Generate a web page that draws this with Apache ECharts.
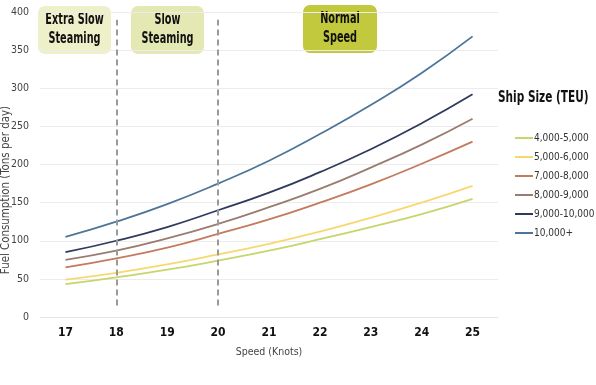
<!DOCTYPE html>
<html><head><meta charset="utf-8">
<script src="https://cdn.jsdelivr.net/npm/echarts@6/dist/echarts.min.js"></script>
<style>html,body{margin:0;padding:0;background:#fff}#c{width:596px;height:385px}</style>
</head><body><div id="c"></div>
<script>
const speeds = ['17','18','19','20','21','22','23','24','25'];
const seriesNames = ['4,000-5,000','5,000-6,000','7,000-8,000','8,000-9,000','9,000-10,000','10,000+'];
const s4000 = [43, 52, 62, 74, 87, 102, 118, 135, 155];
const s5000 = [49, 58, 69, 82, 96, 112, 130, 150, 172];
const s7000 = [65, 77, 91, 109, 128, 150, 174, 201, 230];
const s8000 = [75, 87, 103, 122, 144, 168, 196, 226, 260];
const s9000 = [85, 100, 118, 140, 163, 190, 220, 254, 292];
const s10000 = [105, 125, 148, 175, 205, 240, 278, 320, 368];
const yTicks = [0, 50, 100, 150, 200, 250, 300, 350, 400];
const phaseLines = ['18', '20'];
const colors = ['#c6d66c', '#f9d770', '#c47a5e', '#9a7b70', '#2f3a5c', '#4c7599'];
const allData = [s4000, s5000, s7000, s8000, s9000, s10000];
const font = '"DejaVu Sans Condensed", "DejaVu Sans", sans-serif';

const series = allData.map((d, i) => ({
  name: seriesNames[i], type: 'line', data: d, smooth: true, symbol: 'none',
  lineStyle: { width: 1.8, color: colors[i] }, itemStyle: { color: colors[i] }
}));
series[0].markLine = {
  silent: true, symbol: 'none', label: { show: false },
  lineStyle: { type: [6, 4], color: '#9a9a9a', width: 2 },
  data: phaseLines.map(p => [{ coord: [p, 15] }, { coord: [p, 390] }])
};

function box(x, y, w, h, fill, text) {
  return { type: 'group', left: x, top: y, children: [
    { type: 'rect', shape: { x: 0, y: 0, width: w, height: h, r: 7 }, style: { fill: fill } },
    { type: 'text', x: w / 2, y: h / 2, scaleX: 0.72, style: { text: text, fill: '#111', font: 'bold 15px ' + font, textAlign: 'center', textVerticalAlign: 'middle', lineHeight: 19 } }
  ]};
}

const chart = echarts.init(document.getElementById('c'), null, { renderer: 'canvas' });
chart.setOption({
  animation: false,
  color: colors,
  grid: { left: 40, right: 98, top: 12, bottom: 68 },
  legend: {
    orient: 'vertical', left: 510, top: 128, itemWidth: 18, itemHeight: 2, itemGap: 9,
    icon: 'rect',
    data: seriesNames,
    textStyle: { fontFamily: font, fontSize: 10, color: '#333', padding: [0, 0, 0, -4] }
  },
  xAxis: {
    type: 'category', data: speeds, boundaryGap: true,
    name: 'Speed (Knots)', nameLocation: 'middle', nameGap: 30,
    nameTextStyle: { fontFamily: font, fontSize: 10.5, color: '#444' },
    axisLine: { lineStyle: { color: '#e6e6e6' } }, axisTick: { show: false },
    axisLabel: { fontFamily: font, fontWeight: 'bold', fontSize: 12, color: '#111', margin: 10 }
  },
  yAxis: {
    type: 'value', min: yTicks[0], max: yTicks[yTicks.length - 1], interval: 50,
    axisLine: { show: false }, axisTick: { show: false },
    splitLine: { lineStyle: { color: '#ececec' } },
    axisLabel: { fontFamily: font, fontSize: 10.5, color: '#444', margin: 11 }
  },
  graphic: [
    box(38, 6, 73, 48, '#eef0c9', 'Extra Slow\nSteaming'),
    box(131, 6, 73, 48, '#e4e9b3', 'Slow\nSteaming'),
    box(303, 5, 74, 48, '#c3c93c', 'Normal\nSpeed'),
    { type: 'text', x: 498, y: 98, scaleX: 0.78, style: { text: 'Ship Size (TEU)', fill: '#111', font: 'bold 15px ' + font, textAlign: 'left', textVerticalAlign: 'middle' } },
    { type: 'text', x: 6, y: 190, rotation: Math.PI / 2, scaleX: 0.95, style: { text: 'Fuel Consumption (Tons per day)', fill: '#444', font: '12px ' + font, textAlign: 'center', textVerticalAlign: 'middle' } }
  ],
  series: series
});
</script></body></html>
